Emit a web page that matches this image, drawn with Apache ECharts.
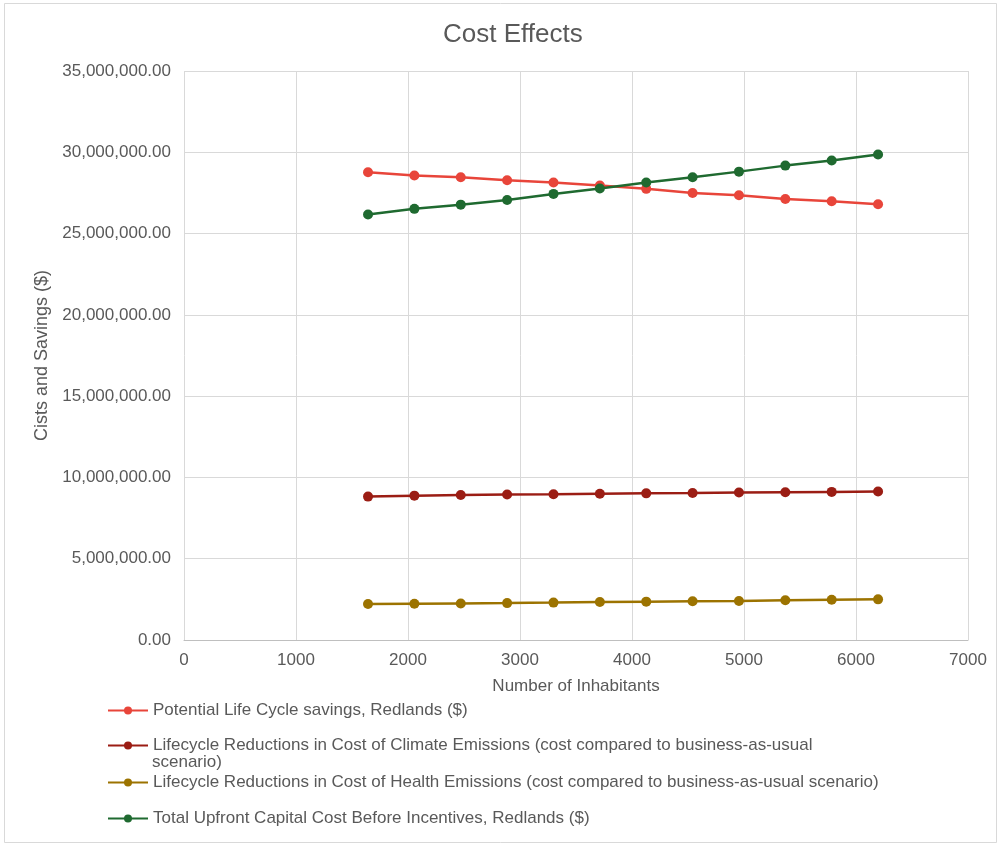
<!DOCTYPE html>
<html>
<head>
<meta charset="utf-8">
<script src="https://cdn.jsdelivr.net/npm/echarts@6/dist/echarts.min.js"></script>
<style>
html,body{margin:0;padding:0;background:#fff;}
#chart{width:999px;height:846px;}
</style>
</head>
<body>
<div id="chart"></div>
<script>
// Number of inhabitants (x values)
const inhabitants = [1643, 2057, 2471, 2885, 3299, 3713, 4127, 4541, 4955, 5369, 5783, 6197];

// Series values in dollars
const lifeCycleSavings = [28770000, 28570000, 28460000, 28280000, 28140000, 27950000, 27750000, 27500000, 27360000, 27130000, 26990000, 26800000];
const climateReductions = [8820000, 8880000, 8920000, 8950000, 8970000, 9000000, 9020000, 9040000, 9070000, 9090000, 9110000, 9130000];
const healthReductions = [2210000, 2230000, 2250000, 2270000, 2300000, 2340000, 2360000, 2380000, 2400000, 2440000, 2480000, 2500000];
const upfrontCost = [26170000, 26520000, 26780000, 27070000, 27440000, 27770000, 28140000, 28460000, 28810000, 29180000, 29490000, 29860000];

const seriesNames = [
  'Potential Life Cycle savings, Redlands ($)',
  'Lifecycle Reductions in Cost of Climate Emissions (cost compared to business-as-usual scenario)',
  'Lifecycle Reductions in Cost of Health Emissions (cost compared to business-as-usual scenario)',
  'Total Upfront Capital Cost Before Incentives, Redlands ($)'
];
const seriesValues = [lifeCycleSavings, climateReductions, healthReductions, upfrontCost];
const seriesColors = ['#E8453A', '#9B1D14', '#9C7300', '#1F6A30'];

const FONT = '"Liberation Sans", Arial, sans-serif';
const TEXT = '#595959';
const WRAP_AT = ' scenario)';

function pairs(xs, ys) { return xs.map((x, i) => [x, ys[i]]); }

function fmtMoney(v) {
  return Number(v).toLocaleString('en-US', { minimumFractionDigits: 2, maximumFractionDigits: 2 });
}

// Vertical position of each legend row
const legendTops = [696, 731, 768, 804];

const chart = echarts.init(document.getElementById('chart'), null, { renderer: 'canvas' });
chart.setOption({
  backgroundColor: '#ffffff',
  animation: false,
  title: {
    text: 'Cost Effects',
    left: 438,
    top: 17,
    textStyle: { fontFamily: FONT, fontSize: 26, fontWeight: 'normal', color: TEXT }
  },
  graphic: [
    {
      type: 'rect',
      shape: { x: 4.5, y: 3.5, width: 992, height: 839 },
      style: { fill: 'none', stroke: '#d9d9d9', lineWidth: 1 },
      silent: true
    },
    {
      // second line of the wrapped climate-emissions legend entry
      type: 'text',
      left: 152,
      top: legendTops[1] + 23,
      style: { text: WRAP_AT.trim(), fontFamily: FONT, fontSize: 17, fill: TEXT },
      silent: true
    }
  ],
  grid: { left: 184, right: 31, top: 71, bottom: 206, containLabel: false },
  xAxis: {
    type: 'value',
    min: 0, max: 7000, interval: 1000,
    name: 'Number of Inhabitants',
    nameLocation: 'middle',
    nameGap: 38,
    nameTextStyle: { fontFamily: FONT, fontSize: 17, color: TEXT },
    axisLine: { show: true, lineStyle: { color: '#bfbfbf', width: 1 } },
    axisTick: { show: false },
    axisLabel: { fontFamily: FONT, fontSize: 17, color: TEXT, margin: 12, formatter: v => String(v) },
    splitLine: { show: true, lineStyle: { color: '#d9d9d9', width: 1 } }
  },
  yAxis: {
    type: 'value',
    min: 0, max: 35000000, interval: 5000000,
    name: 'Cists and Savings ($)',
    nameLocation: 'middle',
    nameGap: 128,
    nameTextStyle: { fontFamily: FONT, fontSize: 18, color: TEXT },
    axisLine: { show: false },
    axisTick: { show: false },
    axisLabel: { fontFamily: FONT, fontSize: 17, color: TEXT, margin: 13, formatter: fmtMoney },
    splitLine: { show: true, lineStyle: { color: '#d9d9d9', width: 1 } }
  },
  legend: seriesNames.map((name, i) => ({
    data: [name],
    orient: 'vertical',
    left: 102,
    top: legendTops[i],
    itemWidth: 40,
    itemHeight: 10,
    selectedMode: false,
    textStyle: { fontFamily: FONT, fontSize: 17, color: TEXT, lineHeight: 19 },
    formatter: n => (i === 1 ? n.replace(WRAP_AT, '') : n)
  })),
  series: seriesNames.map((name, i) => ({
    name: name,
    type: 'line',
    data: pairs(inhabitants, seriesValues[i]),
    symbol: 'circle',
    symbolSize: 10,
    showSymbol: true,
    color: seriesColors[i],
    lineStyle: { color: seriesColors[i], width: 2.5 },
    itemStyle: { color: seriesColors[i], borderWidth: 0 },
    z: 2 + i
  }))
});
</script>
</body>
</html>
